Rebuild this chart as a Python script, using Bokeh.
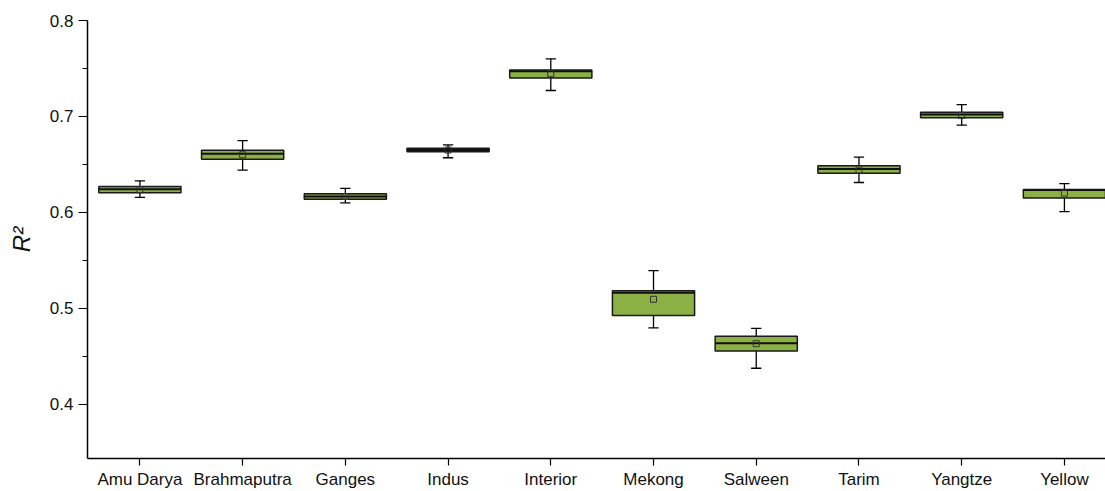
from bokeh.plotting import figure
from bokeh.models import FixedTicker, ColumnDataSource, Range1d
from bokeh.embed import file_html
from bokeh.resources import INLINE

categories = ["Amu Darya", "Brahmaputra", "Ganges", "Indus", "Interior",
              "Mekong", "Salween", "Tarim", "Yangtze", "Yellow"]
whisker_low = [0.6156, 0.6439, 0.6098, 0.6569, 0.7270, 0.4794, 0.4374, 0.6311, 0.6909, 0.6008]
q1 =          [0.6205, 0.6552, 0.6135, 0.6631, 0.7401, 0.4925, 0.4553, 0.6407, 0.6985, 0.6150]
median =      [0.6240, 0.6610, 0.6166, 0.6650, 0.7470, 0.5160, 0.4636, 0.6452, 0.7020, 0.6232]
q3 =          [0.6270, 0.6648, 0.6194, 0.6669, 0.7484, 0.5183, 0.4708, 0.6486, 0.7044, 0.6239]
whisker_high = [0.6328, 0.6748, 0.6249, 0.6703, 0.7600, 0.5392, 0.4790, 0.6576, 0.7123, 0.6300]
mean =        [0.6235, 0.6600, 0.6165, 0.6650, 0.7446, 0.5093, 0.4630, 0.6440, 0.7010, 0.6200]

xs = list(range(1, len(categories) + 1))
src = ColumnDataSource(dict(x=xs, lo=whisker_low, q1=q1, med=median, q3=q3, hi=whisker_high,
                            mean=mean,
                            xl=[x - 0.4 for x in xs], xr=[x + 0.4 for x in xs],
                            cl=[x - 0.05 for x in xs], cr=[x + 0.05 for x in xs]))

p = figure(width=1105, height=491, output_backend="svg", toolbar_location=None,
           x_range=Range1d(0.49, 10.40), y_range=Range1d(0.3433, 0.8),
           min_border_left=87, min_border_right=0, min_border_top=20, min_border_bottom=28)
p.outline_line_color = None
p.xgrid.visible = False
p.ygrid.visible = False
p.background_fill_color = "white"

FONT = "Liberation Sans"

# whiskers
p.segment(x0="x", y0="lo", x1="x", y1="q1", source=src, line_color="black", line_width=1.3)
p.segment(x0="x", y0="q3", x1="x", y1="hi", source=src, line_color="black", line_width=1.3)
p.segment(x0="cl", y0="lo", x1="cr", y1="lo", source=src, line_color="black", line_width=1.3)
p.segment(x0="cl", y0="hi", x1="cr", y1="hi", source=src, line_color="black", line_width=1.3)
# boxes
p.vbar(x="x", width=0.8, top="q3", bottom="q1", source=src,
       fill_color="#8bb043", line_color="#1a1a1a", line_width=1.5)
# medians
p.segment(x0="xl", y0="med", x1="xr", y1="med", source=src, line_color="#111111", line_width=2)
# means
p.scatter(x="x", y="mean", source=src, marker="square", size=6,
          fill_color=None, line_color="#333333", line_width=1)

# x axis
p.xaxis.ticker = FixedTicker(ticks=xs)
p.xaxis.major_label_overrides = {x: c for x, c in zip(xs, categories)}
p.xaxis.minor_tick_line_color = None
p.xaxis.major_tick_in = 0
p.xaxis.major_tick_out = 7
p.xaxis.axis_line_width = 1.5
p.xaxis.major_tick_line_width = 1.2
p.xaxis.major_label_text_font = FONT
p.xaxis.major_label_text_font_size = "17px"
p.xaxis.major_label_text_color = "#111111"
p.xaxis.major_label_standoff = 4

# y axis
p.yaxis.ticker = FixedTicker(ticks=[0.4, 0.5, 0.6, 0.7, 0.8],
                             minor_ticks=[0.45, 0.55, 0.65, 0.75])
p.yaxis.major_tick_in = 0
p.yaxis.major_tick_out = 9
p.yaxis.minor_tick_in = 0
p.yaxis.minor_tick_out = 5
p.yaxis.axis_line_width = 1.5
p.yaxis.major_tick_line_width = 1.2
p.yaxis.minor_tick_line_width = 1.2
p.yaxis.major_label_text_font = FONT
p.yaxis.major_label_text_font_size = "17px"
p.yaxis.major_label_text_color = "#111111"
p.yaxis.major_label_standoff = 5
p.yaxis.axis_label = "R²"
p.yaxis.axis_label_text_font = FONT
p.yaxis.axis_label_text_font_style = "italic"
p.yaxis.axis_label_text_font_size = "24px"
p.yaxis.axis_label_text_color = "#111111"
p.yaxis.axis_label_standoff = 12

open("out.html", "w").write(file_html(p, INLINE))
